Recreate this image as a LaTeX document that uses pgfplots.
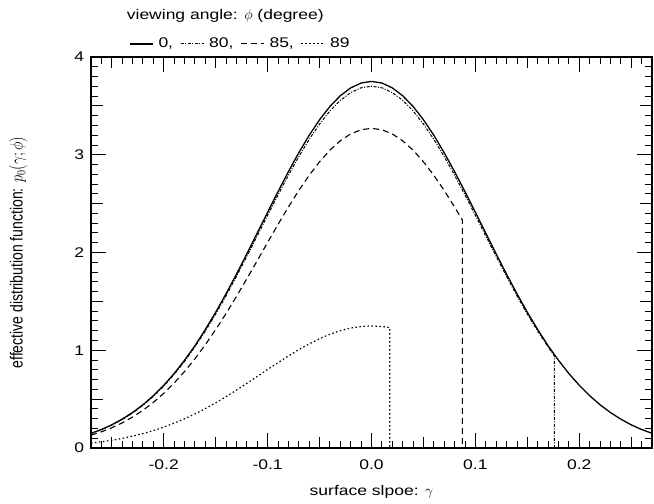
\documentclass[border=0pt]{standalone}
\usepackage{fontspec}
\setmainfont{Liberation Sans}[FakeStretch=1.25]
\newfontfamily\plainsans{Liberation Sans}
\usepackage{pgfplots}
\pgfplotsset{compat=1.18}
\usetikzlibrary{calc}

\begin{document}
\fontsize{14}{16}\selectfont
\begin{tikzpicture}
\begin{axis}[
 name=ax, scale only axis, width=561pt, height=391pt,
 xmin=-0.27, xmax=0.27, ymin=0, ymax=4,
 axis line style={line width=1.2pt},
 tick align=inside, tick style={black, line width=0.9pt},
 xtick={-0.2,-0.1,0,0.1,0.2}, xticklabels={-0.2,-0.1,0.0,0.1,0.2},
 ytick={0,1,2,3,4}, yticklabels={0,1,2,3,4},
 minor xtick={-0.26,-0.25,...,0.265},
 minor ytick={0.1,0.2,...,3.95},
 major tick length=15pt, minor tick length=7pt,
 extra x ticks={-0.25,-0.15,-0.05,0.05,0.15,0.25}, extra x tick labels={},
 extra x tick style={major tick length=11pt},
 extra y ticks={0.5,1.5,2.5,3.5}, extra y tick labels={},
 extra y tick style={major tick length=12pt},
 xticklabel style={font=\fontsize{14}{16}\selectfont, yshift=-7pt},
 yticklabel style={font=\fontsize{14}{16}\selectfont, xshift=-2pt},
 xlabel={surface slpoe: $\gamma$},
 ylabel={\plainsans effective distribution function: $p_0(\gamma;\phi)$},
 xlabel style={at={(axis description cs:0.5,-0.122)}, anchor=base},
 ylabel style={at={(axis description cs:-0.13,0.5)}, anchor=center, yscale=1.25},
 legend style={at={(axis description cs:0,1)}, anchor=south west, xshift=38pt, yshift=6pt,
   draw=none, fill=none, inner sep=0pt, legend columns=4,
   /tikz/every even column/.append style={column sep=6pt},
   nodes={inner sep=1pt}},
 legend image code/.code={\draw[#1] (0pt,0pt) -- (23pt,0pt); \path (27pt,0pt);},
]
% 0 degree
\addplot[black, line width=1.3pt] coordinates {
(-0.27,0.150) (-0.26,0.189) (-0.25,0.237) (-0.24,0.295) (-0.23,0.363) (-0.22,0.442)
(-0.21,0.535) (-0.20,0.641) (-0.19,0.761) (-0.18,0.897) (-0.17,1.046) (-0.16,1.211)
(-0.15,1.388) (-0.14,1.578) (-0.13,1.778) (-0.12,1.985) (-0.11,2.198) (-0.10,2.411)
(-0.09,2.622) (-0.08,2.827) (-0.07,3.020) (-0.06,3.199) (-0.05,3.358) (-0.04,3.494)
(-0.03,3.604) (-0.02,3.684) (-0.01,3.734) (0.00,3.750) (0.01,3.734) (0.02,3.684)
(0.03,3.604) (0.04,3.494) (0.05,3.358) (0.06,3.199) (0.07,3.020) (0.08,2.827)
(0.09,2.622) (0.10,2.411) (0.11,2.198) (0.12,1.985) (0.13,1.778) (0.14,1.578)
(0.15,1.388) (0.16,1.211) (0.17,1.046) (0.18,0.897) (0.19,0.761) (0.20,0.641)
(0.21,0.535) (0.22,0.442) (0.23,0.363) (0.24,0.295) (0.25,0.237) (0.26,0.189) (0.27,0.150)};
\addlegendentry{0,}
% 80 degree
\addplot[black, line width=1pt, dash pattern=on 3pt off 1.5pt on 1pt off 1.5pt] coordinates {
(-0.27,0.148) (-0.26,0.187) (-0.25,0.234) (-0.24,0.291) (-0.23,0.358) (-0.22,0.437)
(-0.21,0.528) (-0.20,0.633) (-0.19,0.752) (-0.18,0.885) (-0.17,1.033) (-0.16,1.195)
(-0.15,1.370) (-0.14,1.557) (-0.13,1.755) (-0.12,1.960) (-0.11,2.169) (-0.10,2.380)
(-0.09,2.588) (-0.08,2.790) (-0.07,2.981) (-0.06,3.157) (-0.05,3.314) (-0.04,3.449)
(-0.03,3.557) (-0.02,3.636) (-0.01,3.685) (0.00,3.701) (0.01,3.685) (0.02,3.636)
(0.03,3.557) (0.04,3.449) (0.05,3.314) (0.06,3.157) (0.07,2.981) (0.08,2.790)
(0.09,2.588) (0.10,2.380) (0.11,2.169) (0.12,1.960) (0.13,1.755) (0.14,1.557)
(0.15,1.370) (0.16,1.195) (0.17,1.033) (0.176,0.942) (0.176,0)};
\addlegendentry{80,}
% 85 degree
\addplot[black, line width=1.1pt, dash pattern=on 6pt off 4pt] coordinates {
(-0.27,0.131) (-0.26,0.165) (-0.25,0.207) (-0.24,0.257) (-0.23,0.316) (-0.22,0.386)
(-0.21,0.466) (-0.20,0.559) (-0.19,0.664) (-0.18,0.782) (-0.17,0.912) (-0.16,1.056)
(-0.15,1.211) (-0.14,1.376) (-0.13,1.550) (-0.12,1.731) (-0.11,1.916) (-0.10,2.103)
(-0.09,2.287) (-0.08,2.465) (-0.07,2.634) (-0.06,2.789) (-0.05,2.928) (-0.04,3.047)
(-0.03,3.143) (-0.02,3.213) (-0.01,3.256) (0.00,3.270) (0.01,3.256) (0.02,3.213)
(0.03,3.143) (0.04,3.047) (0.05,2.928) (0.06,2.789) (0.07,2.634) (0.08,2.465)
(0.0875,2.332) (0.0875,0)};
\addlegendentry{85,}
% 89 degree
\addplot[black, line width=1.2pt, dash pattern=on 1.5pt off 2.5pt] coordinates {
(-0.27,0.050) (-0.26,0.063) (-0.25,0.079) (-0.24,0.098) (-0.23,0.121) (-0.22,0.147)
(-0.21,0.178) (-0.20,0.213) (-0.19,0.254) (-0.18,0.299) (-0.17,0.348) (-0.16,0.403)
(-0.15,0.462) (-0.14,0.525) (-0.13,0.592) (-0.12,0.661) (-0.11,0.732) (-0.10,0.803)
(-0.09,0.873) (-0.08,0.941) (-0.07,1.006) (-0.06,1.065) (-0.05,1.118) (-0.04,1.164)
(-0.03,1.200) (-0.02,1.227) (-0.01,1.243) (0.00,1.249) (0.01,1.243) (0.0175,1.232)
(0.0175,0)};
\addlegendentry{89}
\end{axis}
\node[anchor=base west] at ($(ax.north west)+(31pt,37pt)$) {viewing angle: $\phi$ (degree)};
\pgfresetboundingbox
\path ($(ax.south west)+(-91pt,-56pt)$) rectangle ($(ax.north east)+(2pt,57pt)$);
\end{tikzpicture}
\end{document}
